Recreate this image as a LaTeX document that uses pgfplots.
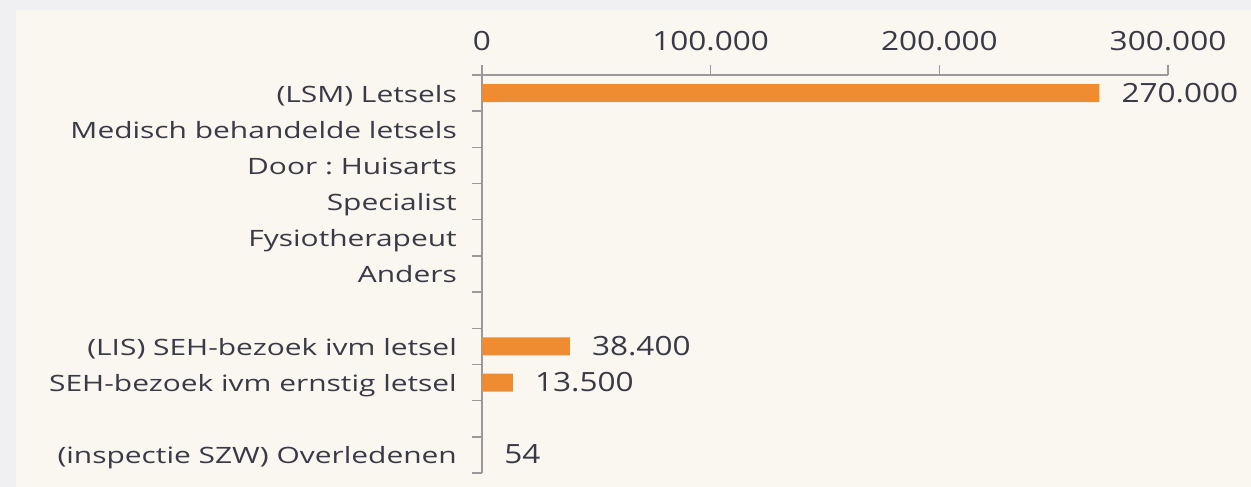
\documentclass[border=0pt]{standalone}
\usepackage{pgfplots}
\pgfplotsset{compat=1.18}
\usepackage{fontspec}
\setmainfont{Open Sans}
\newfontfamily\catfont{Open Sans}[FakeStretch=1.33]
\newfontfamily\numfont{Open Sans}[FakeStretch=1.19]
\definecolor{outer}{HTML}{F0F0F2}
\definecolor{cream}{HTML}{FAF7F1}
\definecolor{barc}{HTML}{EF8C32}
\definecolor{txt}{HTML}{3A3A46}
\definecolor{axl}{HTML}{9A9A9A}
\frenchspacing
\begin{document}
\begin{tikzpicture}[x=1bp,y=1bp]
\fill[outer] (0,0) rectangle (1251,487);
\fill[cream] (16,0) rectangle (1251,477);
\useasboundingbox (0,0) rectangle (1251,487);
\begin{axis}[
  at={(482bp,14bp)}, anchor=south west,
  scale only axis, width=686bp, height=398bp,
  xmin=0, xmax=300000, ymin=-0.5, ymax=10.5,
  axis x line*=top, axis y line*=left,
  axis line style={draw=axl, line width=1.5bp},
  tick align=outside,
  major tick length=10bp, minor tick length=10bp,
  tick style={draw=axl, line width=1.5bp},
  major y tick style={draw=none},
  scaled x ticks=false,
  xtick={0,100000,200000,300000},
  xticklabels={0,100.000,200.000,300.000},
  ytick={0,1,...,10},
  minor ytick={-0.5,0.5,...,10.5},
  yticklabels={(inspectie SZW) Overledenen,,SEH-bezoek ivm ernstig letsel,(LIS) SEH-bezoek ivm letsel,,Anders,Fysiotherapeut,Specialist,Door : Huisarts,Medisch behandelde letsels,(LSM) Letsels},
  tick label style={text=txt, inner sep=0pt},
  yticklabel style={font=\catfont\fontsize{22.5bp}{27bp}\selectfont\frenchspacing, anchor=base east, xshift=-15bp, yshift=-9bp},
  xticklabel style={font=\numfont\fontsize{26.5bp}{32bp}\selectfont, anchor=base, yshift=14bp},
  xbar, bar width=18bp,
  point meta=explicit symbolic,
  nodes near coords,
  nodes near coords style={anchor=base west, inner sep=0pt, xshift=22bp, yshift=-9bp, font=\numfont\fontsize{26.5bp}{32bp}\selectfont, text=txt},
  clip=false,
]
\addplot[fill=barc, draw=none] table[x=x, y=y, meta=label] {
x y label
270000 10 270.000
38400 3 38.400
13500 2 13.500
54 0 54
};
\end{axis}
\end{tikzpicture}
\end{document}
